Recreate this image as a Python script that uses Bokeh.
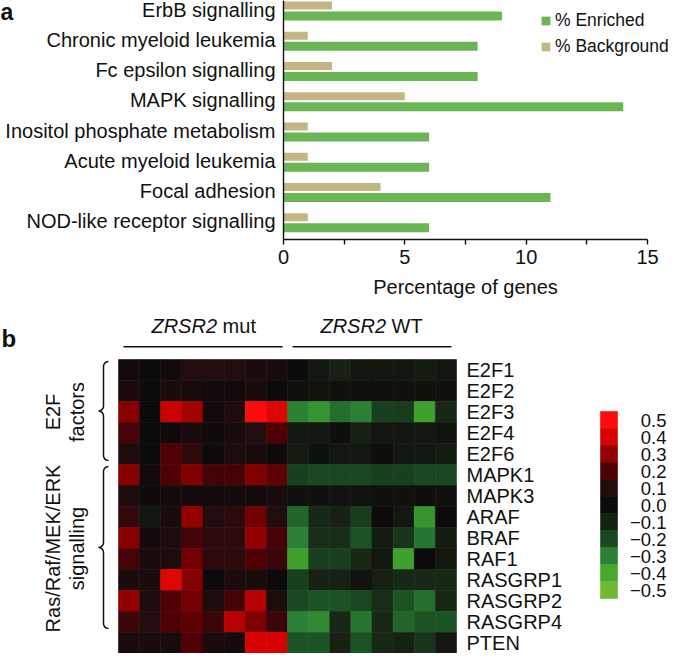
import numpy as np
from bokeh.plotting import figure
from bokeh.models import Range1d, FixedTicker, Legend, LegendItem, Span, ColumnDataSource, LinearColorMapper
from bokeh.layouts import column
from bokeh.embed import file_html
from bokeh.resources import INLINE
from bokeh.core.properties import value
from bokeh.transform import dodge, transform

# ---------------- data: panel a ----------------
pathways = ["ErbB signalling", "Chronic myeloid leukemia", "Fc epsilon signalling",
            "MAPK signalling", "Inositol phosphate metabolism", "Acute myeloid leukemia",
            "Focal adhesion", "NOD-like receptor signalling"]
pct_enriched = [9, 8, 8, 14, 6, 6, 11, 6]
pct_background = [2, 1, 2, 5, 1, 1, 4, 1]
x_ticks = [0, 5, 10, 15]
x_minor_ticks = [2.5, 7.5, 12.5]
x_title = "Percentage of genes"

# ---------------- data: panel b ----------------
genes = ["E2F1", "E2F2", "E2F3", "E2F4", "E2F6", "MAPK1", "MAPK3", "ARAF", "BRAF",
         "RAF1", "RASGRP1", "RASGRP2", "RASGRP4", "PTEN"]
sample_groups = ["mut", "WT"]
samples_per_group = 8
mut_values = [
    [0.03, 0.00, 0.03, 0.10, 0.10, 0.10, 0.06, 0.05],
    [0.07, 0.00, 0.07, 0.05, 0.03, 0.03, 0.06, 0.00],
    [0.28, 0.00, 0.38, 0.32, 0.03, 0.08, 0.50, 0.42],
    [0.18, 0.00, 0.02, 0.07, 0.02, 0.05, 0.10, 0.20],
    [0.08, 0.00, 0.20, 0.12, 0.00, 0.08, 0.06, 0.02],
    [0.28, 0.03, 0.20, 0.27, 0.17, 0.18, 0.27, 0.22],
    [0.08, 0.02, 0.04, 0.04, 0.04, 0.04, 0.03, 0.06],
    [0.13, -0.05, 0.05, 0.30, 0.10, 0.12, 0.25, 0.10],
    [0.28, 0.04, 0.08, 0.17, 0.12, 0.12, 0.30, 0.18],
    [0.18, 0.06, 0.08, 0.25, 0.12, 0.12, 0.20, 0.15],
    [0.07, 0.06, 0.42, 0.28, 0.00, 0.07, 0.06, 0.00],
    [0.30, 0.08, 0.20, 0.25, 0.08, 0.17, 0.35, 0.08],
    [0.15, 0.10, 0.20, 0.22, 0.15, 0.35, 0.27, 0.15],
    [0.06, 0.06, 0.06, 0.20, 0.06, 0.04, 0.40, 0.40],
]
wt_values = [
    [0.00, -0.06, -0.10, -0.05, -0.05, -0.05, -0.08, -0.05],
    [-0.03, -0.04, -0.03, -0.03, -0.03, -0.03, -0.03, -0.03],
    [-0.30, -0.35, -0.27, -0.30, -0.18, -0.17, -0.38, -0.12],
    [-0.06, -0.06, -0.02, -0.10, -0.05, -0.05, -0.06, -0.04],
    [-0.08, -0.03, -0.06, -0.06, -0.02, -0.06, -0.06, -0.08],
    [-0.18, -0.20, -0.20, -0.20, -0.18, -0.18, -0.20, -0.20],
    [-0.03, -0.03, -0.04, -0.04, -0.03, -0.03, -0.02, -0.03],
    [-0.25, -0.12, -0.10, -0.17, 0.00, -0.06, -0.35, 0.00],
    [-0.30, -0.13, -0.13, -0.22, -0.08, -0.15, -0.28, -0.08],
    [-0.38, -0.18, -0.18, -0.12, -0.06, -0.38, 0.00, -0.06],
    [-0.18, -0.10, -0.10, -0.04, -0.10, -0.12, -0.12, -0.12],
    [-0.20, -0.22, -0.22, -0.20, -0.13, -0.22, -0.27, -0.12],
    [-0.30, -0.32, -0.12, -0.28, -0.12, -0.25, -0.22, -0.22],
    [-0.22, -0.22, -0.10, -0.22, -0.12, -0.10, -0.15, -0.06],
]
gene_group_lines = [["E2F", "factors"], ["Ras/Raf/MEK/ERK", "signalling"]]
gene_group_rows = [(0, 5), (5, 13)]          # first row, end row (exclusive)
cbar_levels = [0.5, 0.4, 0.3, 0.2, 0.1, 0.0, -0.1, -0.2, -0.3, -0.4, -0.5]
cbar_labels = ["0.5", "0.4", "0.3", "0.2", "0.1", "0.0",
               "\u22120.1", "\u22120.2", "\u22120.3", "\u22120.4", "\u22120.5"]

# ---------------- styles ----------------
FONT = "Liberation Sans"
GREEN = "#6ab554"
TAN = "#c4b585"
INK = "#111111"
anchor_rgb = [  # colour at -0.5 ... 0.5
    (112, 186, 50), (70, 168, 45), (42, 128, 52), (25, 72, 32), (22, 33, 20),
    (12, 10, 10), (35, 12, 14), (80, 0, 5), (148, 0, 0), (215, 3, 3), (252, 12, 12)]
anchors = np.array(anchor_rgb, dtype=float)
n_pal = 201
tpos = np.linspace(0, len(anchors) - 1, n_pal)
palette = []
for t in tpos:
    i0 = min(int(np.floor(t)), len(anchors) - 2)
    f = t - i0
    c = anchors[i0] * (1 - f) + anchors[i0 + 1] * f
    palette.append("#%02x%02x%02x" % tuple(int(round(v)) for v in c))
mapper = LinearColorMapper(palette=palette, low=-0.5, high=0.5)

# ---------------- panel a ----------------
PXU = 24.267          # px per percentage unit
X0 = 283              # px of x = 0 from the left edge
FRAME_H = 239
BOTTOM_A = 36
n_a = len(pathways)
cat_pos = [n_a - i - 0.5 for i in range(n_a)]
src_a = ColumnDataSource(dict(pos=cat_pos, enriched=pct_enriched, background=pct_background,
                              lab_y=[c + 0.1 for c in cat_pos], lab=pathways))

pct_range = Range1d(-X0 / PXU, (669 - X0) / PXU)
pa = figure(width=669, height=FRAME_H + BOTTOM_A, title=None,
            x_range=pct_range, y_range=Range1d(0, 7.9),
            output_backend="svg", toolbar_location=None, y_axis_location=None,
            min_border_left=0, min_border_right=0, min_border_top=0, min_border_bottom=BOTTOM_A)
pa.outline_line_color = None
pa.grid.visible = False
r_bg = pa.hbar(y=dodge("pos", 0.235), left=0, right="background", height=0.264, source=src_a,
               fill_color=TAN, line_color=None)
r_en = pa.hbar(y=dodge("pos", -0.112), left=0, right="enriched", height=0.297, source=src_a,
               fill_color=GREEN, line_color=None)
pa.add_layout(Span(location=0, dimension="height", line_color=INK, line_width=1.4))
pa.text(x=0, y="lab_y", text="lab", source=src_a, x_offset=-8, text_align="right",
        text_baseline="middle", text_font=value(FONT), text_font_size="20px", text_color=INK)

xa = pa.xaxis[0]
xa.bounds = (x_ticks[0], x_ticks[-1])
xa.ticker = FixedTicker(ticks=x_ticks, minor_ticks=x_minor_ticks)
xa.major_tick_out = 5
xa.major_tick_in = 0
xa.minor_tick_out = 5
xa.minor_tick_in = 0
xa.major_tick_line_color = INK
xa.minor_tick_line_color = INK
xa.major_tick_line_width = 1.4
xa.minor_tick_line_width = 1.4
xa.axis_line_color = INK
xa.axis_line_width = 1.4
xa.major_label_standoff = 5
xa.major_label_text_font = FONT
xa.major_label_text_font_size = "20px"
xa.major_label_text_color = INK

legend = Legend(items=[LegendItem(label="% Enriched", renderers=[r_en]),
                       LegendItem(label="% Background", renderers=[r_bg])],
                location=(X0 + 257, 182), orientation="vertical",
                glyph_width=11, glyph_height=11, label_standoff=4, spacing=5,
                padding=0, margin=0, border_line_color=None, background_fill_alpha=0,
                label_text_font=FONT, label_text_font_size="17.5px", label_text_color=INK)
pa.add_layout(legend, "center")

pa.text(x=[-X0 / PXU], y=[7.9 - 11 / 30.25], text=["a"], text_align="left",
        text_baseline="alphabetic", text_font=value(FONT), text_font_size="23px",
        text_font_style="bold", text_color=INK)

# ---------------- panel b ----------------
W = 21.125   # px per sample column
H = 21.0     # px per gene row
HB = 653 - (FRAME_H + BOTTOM_A)
n_rows = len(genes)
n_cols = samples_per_group * len(sample_groups)
HM_TOP = 84  # px from top of panel b to heatmap top

pb = figure(width=669, height=HB, title=None,
            x_range=Range1d(-118 / W, (669 - 118) / W),
            y_range=Range1d(n_rows - (HB - HM_TOP) / H, n_rows + HM_TOP / H),
            output_backend="svg", toolbar_location=None, min_border=0,
            x_axis_location=None, y_axis_location=None)
pb.extra_x_ranges = {"pct": pct_range}
pb.outline_line_color = None
pb.grid.visible = False

# x-axis title of panel a (centred under the 0-15 axis)
pb.text(x=[(x_ticks[0] + x_ticks[-1]) / 2], y=[n_rows + (HM_TOP - 11.5) / H], text=[x_title],
        x_range_name="pct", text_align="center", text_baseline="middle",
        text_font=value(FONT), text_font_size="20px", text_color=INK)

vals = np.hstack([np.array(mut_values), np.array(wt_values)])
rows, cols = np.indices(vals.shape)
src_h = ColumnDataSource(dict(x=(cols + 0.5).ravel(), y=(n_rows - rows - 0.5).ravel(), v=vals.ravel()))
pb.rect(x="x", y="y", width=1, height=1, source=src_h,
        fill_color=transform("v", mapper), line_color=transform("v", mapper), line_width=0.6)

# gene labels
src_g = ColumnDataSource(dict(x=[n_cols] * n_rows, y=[n_rows - i - 0.5 for i in range(n_rows)], t=genes))
pb.text(x="x", y="y", text="t", source=src_g, x_offset=10, text_align="left", text_baseline="middle",
        text_font=value(FONT), text_font_size="20px", text_color=INK)

# sample group headers
hdr_inset = 5 / W
g_start = [k * samples_per_group for k in range(len(sample_groups))]
g_end = [(k + 1) * samples_per_group for k in range(len(sample_groups))]
g_center = [(s + e) / 2 for s, e in zip(g_start, g_end)]
line_y = n_rows + 12.7 / H
text_y = n_rows + 34.0 / H
pb.segment(x0=[s + hdr_inset for s in g_start], x1=[e - hdr_inset for e in g_end],
           y0=[line_y] * len(g_start), y1=[line_y] * len(g_start), line_color=INK, line_width=1.5)
pb.text(x=g_center, y=[text_y] * len(g_center), text=["ZRSR2"] * len(g_center), x_offset=14,
        text_align="right", text_baseline="middle", text_font=value(FONT), text_font_size="20px",
        text_font_style="italic", text_color=INK)
pb.text(x=g_center, y=[text_y] * len(g_center), text=sample_groups, x_offset=19.6,
        text_align="left", text_baseline="middle", text_font=value(FONT), text_font_size="20px",
        text_color=INK)

# gene group brackets
bx = (103 - 118) / W
r = 5.0
arc = np.linspace(0, np.pi / 2, 8)
for (r0, r1) in gene_group_rows:
    top = n_rows - r0 - 2 / H
    bot = n_rows - r1 + 4 / H
    mid = (top + bot) / 2
    rx, ry = r / W, r / H
    xs, ys = [], []
    a = np.pi / 2 + arc
    xs += list(bx + rx + rx * np.cos(a)); ys += list(top - ry + ry * np.sin(a))
    a = -arc
    xs += list(bx - rx + rx * np.cos(a)); ys += list(mid + ry + ry * np.sin(a))
    a = np.pi / 2 - arc
    xs += list(bx - rx + rx * np.cos(a)); ys += list(mid - ry + ry * np.sin(a))
    a = np.pi + arc
    xs += list(bx + rx + rx * np.cos(a)); ys += list(bot + ry + ry * np.sin(a))
    pb.line(x=xs, y=ys, line_color=INK, line_width=1.5)

# gene group labels (rotated)
line_x = [(52 - 118) / W, (76 - 118) / W]
for (r0, r1), lines in zip(gene_group_rows, gene_group_lines):
    mid = n_rows - (r0 + r1) / 2
    pb.text(x=line_x[:len(lines)], y=[mid] * len(lines), text=lines, angle=np.pi / 2,
            text_align="center", text_baseline="middle", text_font=value(FONT),
            text_font_size="20px", text_color=INK)

# colour bar
cb_x0 = (600 - 118) / W
cb_w = 17 / W
cb_top = n_rows - 52 / H
cb_bin = 17 / H
src_c = ColumnDataSource(dict(
    x=[cb_x0 + cb_w / 2] * len(cbar_levels),
    y=[cb_top - (k + 0.5) * cb_bin for k in range(len(cbar_levels))],
    lev=cbar_levels, lab=cbar_labels))
pb.rect(x="x", y="y", width=cb_w, height=cb_bin, source=src_c,
        fill_color=transform("lev", mapper), line_color=transform("lev", mapper), line_width=0.6)
pb.text(x=cb_x0 + cb_w, y="y", text="lab", source=src_c, x_offset=49, text_align="right",
        text_baseline="middle", text_font=value(FONT), text_font_size="18.5px", text_color=INK)

# panel letter
pb.text(x=[-118 / W + 1 / W], y=[n_rows + 20.7 / H], text=["b"], text_align="left",
        text_baseline="alphabetic", text_font=value(FONT), text_font_size="24px",
        text_font_style="bold", text_color=INK)

layout = column(pa, pb, spacing=0)
open("out.html", "w").write(file_html(layout, INLINE))
